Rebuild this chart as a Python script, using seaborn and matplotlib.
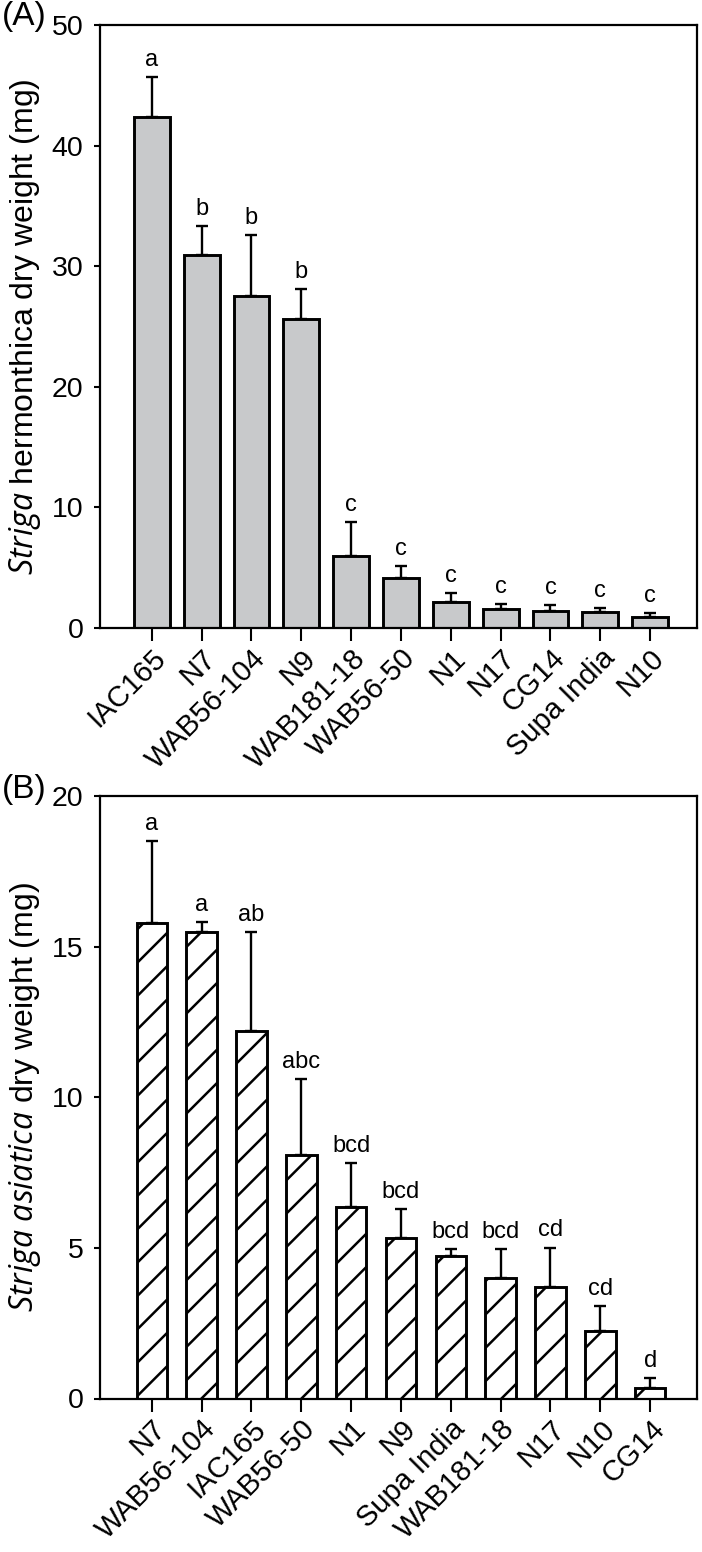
import numpy as np
import seaborn as sns
import matplotlib
matplotlib.use("Agg")
import matplotlib.pyplot as plt

# panel A data
cult_a = ['IAC165', 'N7', 'WAB56-104', 'N9', 'WAB181-18', 'WAB56-50',
          'N1', 'N17', 'CG14', 'Supa India', 'N10']
mean_a = [42.4, 30.9, 27.5, 25.6, 6.0, 4.17, 2.13, 1.6, 1.41, 1.30, 0.89]
se_a = [3.3, 2.4, 5.1, 2.5, 2.8, 0.93, 0.75, 0.4, 0.47, 0.38, 0.33]
lett_a = ['a', 'b', 'b', 'b', 'c', 'c', 'c', 'c', 'c', 'c', 'c']

# panel B data
cult_b = ['N7', 'WAB56-104', 'IAC165', 'WAB56-50', 'N1', 'N9',
          'Supa India', 'WAB181-18', 'N17', 'N10', 'CG14']
mean_b = [15.8, 15.47, 12.21, 8.08, 6.37, 5.32, 4.73, 4.01, 3.71, 2.25, 0.36]
se_b = [2.69, 0.36, 3.27, 2.53, 1.45, 0.96, 0.23, 0.94, 1.30, 0.82, 0.31]
lett_b = ['a', 'a', 'ab', 'abc', 'bcd', 'bcd', 'bcd', 'bcd', 'cd', 'cd', 'd']

sns.set_style('ticks')
plt.rcParams['font.family'] = ['Liberation Sans', 'DejaVu Sans']
plt.rcParams['mathtext.fontset'] = 'custom'
plt.rcParams['mathtext.rm'] = 'Open Sans'
plt.rcParams['mathtext.it'] = 'Open Sans:italic'
plt.rcParams['hatch.linewidth'] = 1.8
plt.rcParams['hatch.color'] = 'black'
for k in ['text.color', 'axes.labelcolor', 'xtick.color', 'ytick.color',
          'axes.edgecolor']:
    plt.rcParams[k] = 'black'

fig = plt.figure(figsize=(7.02, 15.52), dpi=100)
axA = fig.add_axes([100/702, 1-628/1552, 597/702, 603/1552])
axB = fig.add_axes([100/702, 1-1398.5/1552, 597/702, 602.5/1552])


def panel(ax, names, means, se, letters, width, fill, ymax, step, ylab):
    sns.barplot(x=names, y=means, color=fill, saturation=1, width=width,
                edgecolor='black', linewidth=2.1, errorbar=None, ax=ax, zorder=2)
    pos = np.arange(len(names))
    ax.errorbar(pos, means, yerr=[np.zeros(len(se)), se], fmt='none',
                ecolor='black', elinewidth=1.7, capsize=4.5, capthick=1.7, zorder=1)
    for x, m, s, t in zip(pos, means, se, letters):
        ax.annotate(t, (x, m + s), xytext=(0, 8), textcoords='offset points',
                    ha='center', va='baseline', fontsize=17)
    ax.set_xlim(-1.04, 10.94)
    ax.set_ylim(0, ymax)
    ax.set_yticks(np.arange(0, ymax + 0.1, step))
    for sp in ax.spines.values():
        sp.set_linewidth(1.6)
        sp.set_visible(True)
    ax.tick_params(axis='y', direction='out', length=4, width=1.5, pad=8,
                   labelsize=20.5)
    ax.tick_params(axis='x', direction='out', length=9.5, width=1.5, pad=2,
                   labelsize=21)
    for lab in ax.get_xticklabels():
        lab.set_rotation(45)
        lab.set_ha('right')
        lab.set_va('top')
        lab.set_rotation_mode('anchor')
    ax.set_ylabel(ylab, fontsize=23, labelpad=6)
    ax.set_xlabel('')


panel(axA, cult_a, mean_a, se_a, lett_a, 0.72, '#c8c9cb', 50, 10,
      r'$\it{Striga}$ hermonthica dry weight (mg)')
panel(axB, cult_b, mean_b, se_b, lett_b, 0.61, 'white', 20, 5,
      r'$\it{Striga}$ $\it{asiatica}$ dry weight (mg)')
for p in axB.patches:
    p.set_hatch('/')

fig.text(0.003, 1-1/1552, '(A)', fontsize=24, va='top', ha='left')
fig.text(0.003, 1-774/1552, '(B)', fontsize=24, va='top', ha='left')

fig.savefig('out.png', dpi=100)
